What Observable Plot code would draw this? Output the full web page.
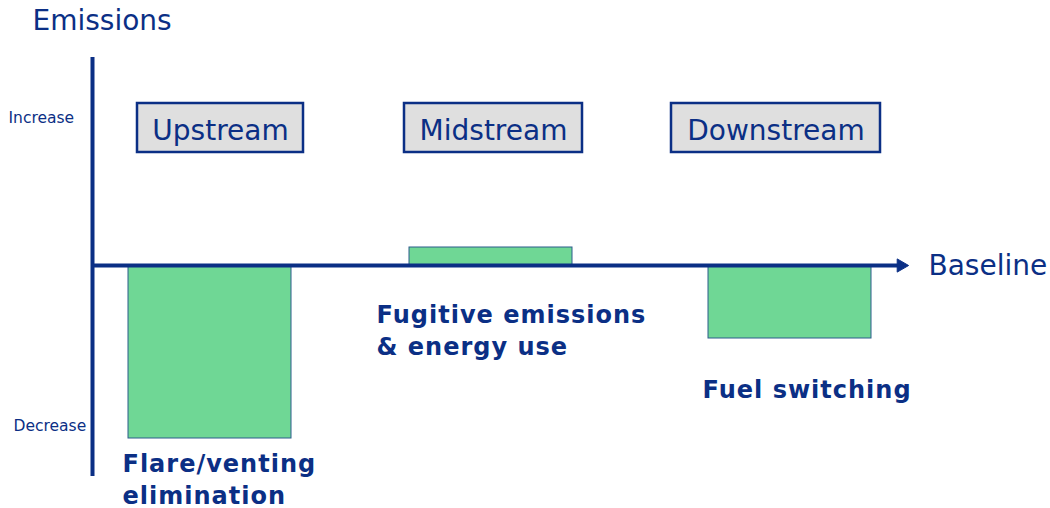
<!DOCTYPE html>
<html><head><meta charset="utf-8">
<script src="https://cdn.jsdelivr.net/npm/d3@7"></script>
<script src="https://cdn.jsdelivr.net/npm/@observablehq/plot@0.6"></script>
<style>html,body{margin:0;padding:0;background:#fff}#chart svg{display:block}.measure text{letter-spacing:1px}</style>
</head><body><div id="chart"></div>
<script>
// ---- data ----
const stages = ["Upstream", "Midstream", "Downstream"];
const changes = [-173, 18, -73]; // emission change vs. baseline (arbitrary units)
const measures = [["Flare/venting", "elimination"], ["Fugitive emissions", "& energy use"], ["Fuel switching"]];
const tickLabels = ["Increase", "Decrease"];
const tickValues = [143, -165];

// ---- layout (positions in scale units) ----
const barCenter = [209.5, 490.5, 789.5];
const barHalf = 81.5;
const boxX1 = [137, 404, 671], boxX2 = [303, 582, 880];
const boxY1 = 113, boxY2 = 162, boxLabelY = 126;
const measureX = [122, 376, 702], measureY = [-238, -89, -132];
const tickX = [8, 13];

const BLUE = "#0b2f85";
const bars = stages.map((s, i) => ({stage: s, change: changes[i], x1: barCenter[i] - barHalf, x2: barCenter[i] + barHalf}));
const boxes = stages.map((s, i) => ({stage: s, x1: boxX1[i], x2: boxX2[i]}));
const notes = stages.map((s, i) => ({text: measures[i].join("\n"), x: measureX[i], y: measureY[i]}));
const ticks = tickLabels.map((t, i) => ({text: t, x: tickX[i], y: tickValues[i]}));

const chart = Plot.plot({
  width: 1050, height: 508,
  marginTop: 0, marginRight: 0, marginBottom: 0, marginLeft: 0,
  x: {domain: [0, 1050], axis: null},
  y: {domain: [-243, 265], axis: null},
  style: {fontFamily: "'DejaVu Sans', Verdana, sans-serif", background: "#fff", color: BLUE},
  marks: [
    // bars
    Plot.rect(bars, {x1: "x1", x2: "x2", y1: 0, y2: "change", fill: "#6fd795", stroke: "#2d5c8c", strokeWidth: 1}),
    // vertical axis
    Plot.ruleX([92], {y1: 208, y2: -211, stroke: BLUE, strokeWidth: 4}),
    // baseline with arrow
    Plot.ruleY([0], {x1: 92, x2: 898, stroke: BLUE, strokeWidth: 4}),
    Plot.dot([0], {x: 900.5, y: 0, symbol: "triangle", r: 4.9, rotate: 90, fill: BLUE, stroke: BLUE, strokeWidth: 1}),
    // stage boxes
    Plot.rect(boxes, {x1: "x1", x2: "x2", y1: boxY1, y2: boxY2, fill: "#dfdfdf", stroke: BLUE, strokeWidth: 2.5}),
    Plot.text(boxes, {x: d => (d.x1 + d.x2) / 2, y: boxLabelY, text: "stage", fontSize: 28, fill: BLUE, lineAnchor: "bottom", textAnchor: "middle"}),
    // measure labels
    Plot.text(notes, {x: "x", y: "y", text: "text", fontSize: 24, fontWeight: "bold", fill: BLUE, lineAnchor: "bottom", textAnchor: "start", lineHeight: 1.3, className: "measure"}),
    // increase / decrease labels
    Plot.text(ticks, {x: "x", y: "y", text: "text", fontSize: 15.5, fill: BLUE, lineAnchor: "bottom", textAnchor: "start"}),
    // titles
    Plot.text(["Emissions"], {x: 32, y: 236, text: d => d, fontSize: 28, fill: BLUE, lineAnchor: "bottom", textAnchor: "start"}),
    Plot.text(["Baseline"], {x: 928, y: -9, text: d => d, fontSize: 28, fill: BLUE, lineAnchor: "bottom", textAnchor: "start"})
  ]
});
document.getElementById("chart").append(chart);
</script>
</body></html>
